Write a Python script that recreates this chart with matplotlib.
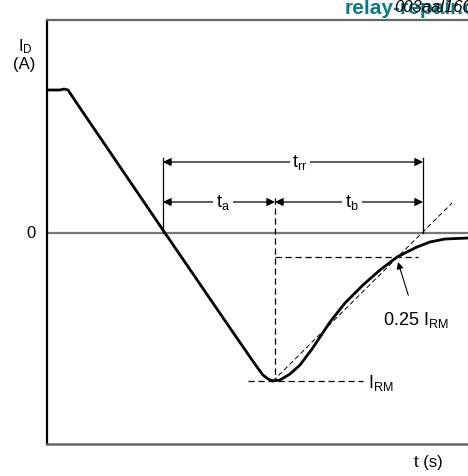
import matplotlib
matplotlib.use("Agg")
import matplotlib.pyplot as plt

plt.rcParams['font.family'] = ['Liberation Sans', 'DejaVu Sans']
plt.rcParams['mathtext.fontset'] = 'custom'
plt.rcParams['mathtext.rm'] = 'Liberation Sans'
plt.rcParams['mathtext.it'] = 'Liberation Sans:italic'

# reverse recovery waveform (time in arbitrary units, current in arbitrary units)
t = [0, 13, 17, 21, 25, 31, 118, 183, 203, 210, 216, 221, 226, 233, 243, 253, 265,
     283, 298, 316, 333, 350, 370, 383, 398, 421]
i_d = [143, 143, 144, 143, 137, 128, 0, -95, -124, -134, -142, -146, -148, -147,
       -141, -132, -116, -89, -70, -52, -37, -24, -14, -9, -6, -5]

t_start = 116      # start of t_rr
t_peak = 228       # I_RM instant (end of t_a)
t_end = 376        # end of t_rr
i_rm = -148
i_quarter = -24
tangent_t = [226, 405]
tangent_i = [-148, 30]

fig = plt.figure(figsize=(4.68, 4.76), dpi=100)
ax = fig.add_axes([47 / 468, 32 / 476, 423 / 468, 424 / 476])
ax.set_xlim(0, 423)
ax.set_ylim(-211, 213)
ax.set_xticks([])
ax.set_yticks([])
ax.spines['right'].set_visible(False)
ax.spines['left'].set_linewidth(1.6)
ax.spines['left'].set_color('black')
ax.spines['top'].set_color('#666666')
ax.spines['bottom'].set_color('#666666')
ax.spines['top'].set_linewidth(1.6)
ax.spines['bottom'].set_linewidth(1.8)

# zero line
ax.axhline(0, color='#777777', lw=1.6, zorder=1)

# dashed construction lines
ax.plot([t_peak, t_peak], [35, i_rm], ls=(0, (5, 3)), color='black', lw=0.9)
ax.plot([201, 316], [i_rm, i_rm], ls=(0, (5, 3)), color='black', lw=0.9)
ax.plot([t_peak, 371], [i_quarter, i_quarter], ls=(0, (5, 3)), color='black', lw=0.9)
ax.plot(tangent_t, tangent_i, ls=(0, (5, 3)), color='black', lw=0.7)

# waveform
ax.plot(t, i_d, color='black', lw=2.0, solid_capstyle='round',
        solid_joinstyle='round', zorder=3)

# extent markers
for x in (t_start, t_end):
    ax.plot([x, x], [75, 0], color='black', lw=0.9)

arrow = dict(arrowstyle='<|-|>', color='black', lw=0.9, mutation_scale=12,
             shrinkA=0, shrinkB=0)
ax.annotate('', xy=(t_start, 71), xytext=(t_end, 71), arrowprops=arrow)
ax.annotate('', xy=(t_start, 31), xytext=(t_peak, 31), arrowprops=arrow)
ax.annotate('', xy=(t_peak, 31), xytext=(t_end, 31), arrowprops=arrow)

box = dict(facecolor='white', edgecolor='none', pad=2)
ax.text(253, 71, r'$\mathregular{t_{rr}}$', fontsize=13, ha='center', va='center', bbox=box)
ax.text(176, 31, r'$\mathregular{t_{a}}$', fontsize=13, ha='center', va='center', bbox=box)
ax.text(305, 31, r'$\mathregular{t_{b}}$', fontsize=13, ha='center', va='center', bbox=box)

ax.text(321, i_rm - 2, r'$\mathregular{I_{RM}}$', fontsize=13, ha='left', va='center')
ax.annotate(r'$\mathregular{0.25\ I_{RM}}$', xy=(351, -29), xytext=(369, -87),
            fontsize=13, ha='center', va='center',
            arrowprops=dict(arrowstyle='-|>', color='black', lw=0.8,
                            mutation_scale=10, shrinkA=9, shrinkB=0))

# axis labels
fig.text(25 / 468, 1 - 47 / 476, r'$\mathregular{I_D}$', fontsize=12, ha='center', va='center')
fig.text(24 / 468, 1 - 64 / 476, '(A)', fontsize=12, ha='center', va='center')
fig.text(36 / 468, 1 - 233 / 476, '0', fontsize=12, ha='right', va='center')
fig.text(428 / 468, 1 - 463 / 476, 't (s)', fontsize=12, ha='center', va='center')

# corner labels
fig.text(345 / 468, 1 - 9 / 476, 'relay-repair.com', fontsize=15, fontweight='bold',
         color='#0b7a86', ha='left', va='center')
fig.text(394 / 468, 1 - 8 / 476, '003aal160', fontsize=12, style='italic',
         ha='left', va='center')

fig.savefig('out.png', dpi=100)
